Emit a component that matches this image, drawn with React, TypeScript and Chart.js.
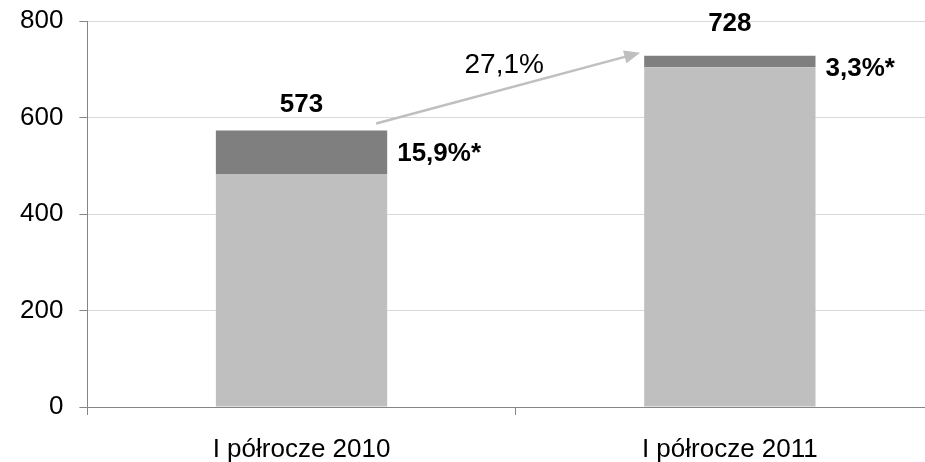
import React, { useEffect, useRef } from "react";
import { Chart, registerables } from "chart.js";

Chart.register(...registerables);

const categories = ["I półrocze 2010", "I półrocze 2011"];
const baseValues = [482, 704];
const topValues = [91, 24];
const totalLabels = ["573", "728"];
const shareLabels = ["15,9%*", "3,3%*"];
const growthLabel = "27,1%";
const yMin = 0;
const yMax = 800;
const yStep = 200;

const FONT = "'Liberation Sans', Arial, sans-serif";

const annotationPlugin = {
  id: "annotations",
  afterDatasetsDraw(chart: any) {
    const ctx = chart.ctx;
    const meta = chart.getDatasetMeta(1);
    const bars = meta.data as any[];
    ctx.save();
    // totals above bars
    ctx.fillStyle = "#000";
    ctx.font = `bold 26px ${FONT}`;
    ctx.textAlign = "center";
    ctx.textBaseline = "middle";
    const totalOffsets = [26, 32];
    bars.forEach((b, i) => {
      ctx.fillText(totalLabels[i], b.x, b.y - totalOffsets[i]);
    });
    // share labels to the right of the top segment
    ctx.textAlign = "left";
    bars.forEach((b, i) => {
      const mid = Math.max((b.y + b.base) / 2, b.y + 12);
      ctx.fillText(shareLabels[i], b.x + b.width / 2 + 10, mid + 1.5);
    });
    // growth arrow
    const b0 = bars[0];
    const b1 = bars[1];
    const sx = b0.x + b0.width / 2 - 11;
    const sy = b0.y - 7;
    const ex = b1.x - b1.width / 2 - 4;
    const ey = b1.y - 3;
    const ang = Math.atan2(ey - sy, ex - sx);
    const headLen = 16;
    const headHalf = 6.5;
    const lx = ex - headLen * Math.cos(ang);
    const ly = ey - headLen * Math.sin(ang);
    ctx.strokeStyle = "#bfbfbf";
    ctx.fillStyle = "#bfbfbf";
    ctx.lineWidth = 2.5;
    ctx.beginPath();
    ctx.moveTo(sx, sy);
    ctx.lineTo(lx + 2 * Math.cos(ang), ly + 2 * Math.sin(ang));
    ctx.stroke();
    ctx.beginPath();
    ctx.moveTo(ex, ey);
    ctx.lineTo(lx - headHalf * Math.sin(ang), ly + headHalf * Math.cos(ang));
    ctx.lineTo(lx + headHalf * Math.sin(ang), ly - headHalf * Math.cos(ang));
    ctx.closePath();
    ctx.fill();
    // growth label
    ctx.fillStyle = "#000";
    ctx.font = `28px ${FONT}`;
    ctx.textAlign = "center";
    ctx.textBaseline = "middle";
    ctx.fillText(growthLabel, (sx + ex) / 2 - 4, (sy + ey) / 2 - 23);
    ctx.restore();
  },
};

export default function App() {
  const canvasRef = useRef<HTMLCanvasElement | null>(null);

  useEffect(() => {
    if (!canvasRef.current) return;
    const chart = new Chart(canvasRef.current, {
      type: "bar",
      data: {
        labels: categories,
        datasets: [
          {
            label: "base",
            data: baseValues,
            backgroundColor: "#bfbfbf",
            borderWidth: 0,
            categoryPercentage: 1,
            barPercentage: 0.4,
          },
          {
            label: "top",
            data: topValues,
            backgroundColor: "#7f7f7f",
            borderWidth: 0,
            categoryPercentage: 1,
            barPercentage: 0.4,
          },
        ],
      },
      options: {
        responsive: false,
        devicePixelRatio: 1,
        animation: false,
        layout: { padding: { top: 21, left: 4, right: 6, bottom: 0 } },
        plugins: {
          legend: { display: false },
          tooltip: { enabled: false },
        },
        scales: {
          x: {
            stacked: true,
            afterFit: (scale: any) => {
              scale.height = 55;
            },
            grid: {
              offset: true,
              drawOnChartArea: false,
              drawTicks: true,
              tickLength: 8,
              tickColor: "#868686",
            },
            border: { display: true, color: "#868686", width: 1 },
            ticks: {
              color: "#000",
              padding: 19,
              font: { family: FONT, size: 26 },
            },
          },
          y: {
            stacked: true,
            min: yMin,
            max: yMax,
            afterFit: (scale: any) => {
              scale.paddingTop = 0;
            },
            grid: {
              color: "#d9d9d9",
              lineWidth: 1,
              tickLength: 8,
              tickColor: "#868686",
            },
            border: { display: true, color: "#868686", width: 1 },
            ticks: {
              stepSize: yStep,
              color: "#000",
              padding: 16,
              font: { family: FONT, size: 26 },
            },
          },
        },
      },
      plugins: [annotationPlugin],
    });
    return () => chart.destroy();
  }, []);

  return (
    <div
      style={{
        position: "fixed",
        left: 0,
        top: 0,
        width: 925,
        height: 462,
        overflow: "hidden",
        background: "#fff",
      }}
    >
      <canvas ref={canvasRef} width={950} height={462} style={{ display: "block" }} />
    </div>
  );
}
